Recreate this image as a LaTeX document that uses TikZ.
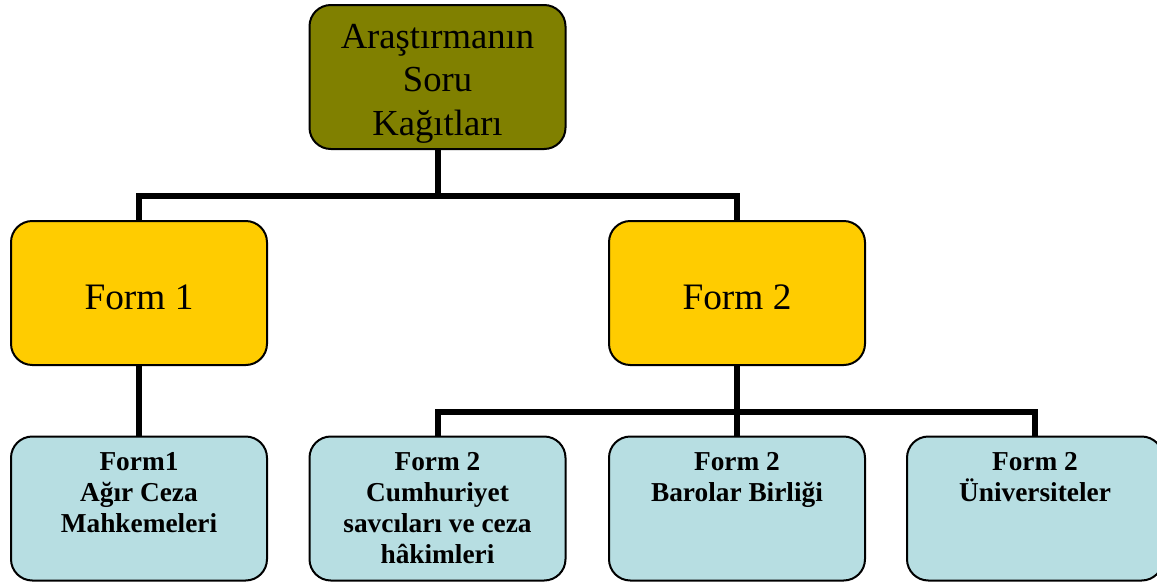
\documentclass[tikz,border=0pt]{standalone}
\usepackage{fontspec}
\setmainfont{Liberation Serif}
\usetikzlibrary{positioning}

\definecolor{rootcol}{RGB}{128,128,0}
\definecolor{formcol}{RGB}{255,204,0}
\definecolor{leafcol}{RGB}{183,222,226}

\tikzset{
    box/.style={draw=black, line width=1.5pt, rounded corners=16pt,
        minimum width=192pt, minimum height=108pt, inner sep=0pt},
    rootbox/.style={box, fill=rootcol, font=\fontsize{27.5}{32.5}\selectfont},
    formbox/.style={box, fill=formcol, font=\fontsize{28}{34}\selectfont,
        text height=25pt, text depth=0pt},
    leafbox/.style={box, fill=leafcol, font=\fontsize{20.5}{23.3}\selectfont\bfseries},
    conn/.style={line width=4.5pt}
}
\newcommand{\roottext}[1]{\parbox[c]{188pt}{\centering\vspace*{10pt}#1}}
\newcommand{\leaftext}[1]{\parbox[c][94pt][t]{188pt}{\centering\vspace*{5pt}#1}}

\begin{document}
\begin{tikzpicture}[x=0.75pt, y=-0.75pt]
        \useasboundingbox (0,0) rectangle (1157,582);
        \clip (0,0) rectangle (1157,582);

        % boxes
        \node[rootbox] (root) at (437.5,77) {\roottext{Araştırmanın\\Soru\\Kağıtları}};
        \node[formbox] (form1) at (139,293) {Form 1};
        \node[formbox] (form2) at (737,293) {Form 2};

        \node[leafbox] (leaf1) at (139,508.5) {\leaftext{Form1\\Ağır Ceza\\Mahkemeleri}};
        \node[leafbox] (leaf2) at (437.5,508.5) {\leaftext{Form 2\\Cumhuriyet\\savcıları ve ceza\\hâkimleri}};
        \node[leafbox] (leaf3) at (737,508.5) {\leaftext{Form 2\\Barolar Birliği}};
        \node[leafbox] (leaf4) at (1035,508.5) {\leaftext{Form 2\\Üniversiteler}};

        % junctions
        \coordinate (j1) at (437.5,196);
        \coordinate (j2) at (737,412);

        % connectors
        \draw[conn] (root.south) -- (j1) -| (form1.north);
        \draw[conn] (j1) -| (form2.north);
        \draw[conn] (form1.south) -- (leaf1.north);
        \draw[conn] (form2.south) -- (j2) -- (leaf3.north);
        \draw[conn] (j2) -| (leaf2.north);
        \draw[conn] (j2) -| (leaf4.north);
\end{tikzpicture}
\end{document}
